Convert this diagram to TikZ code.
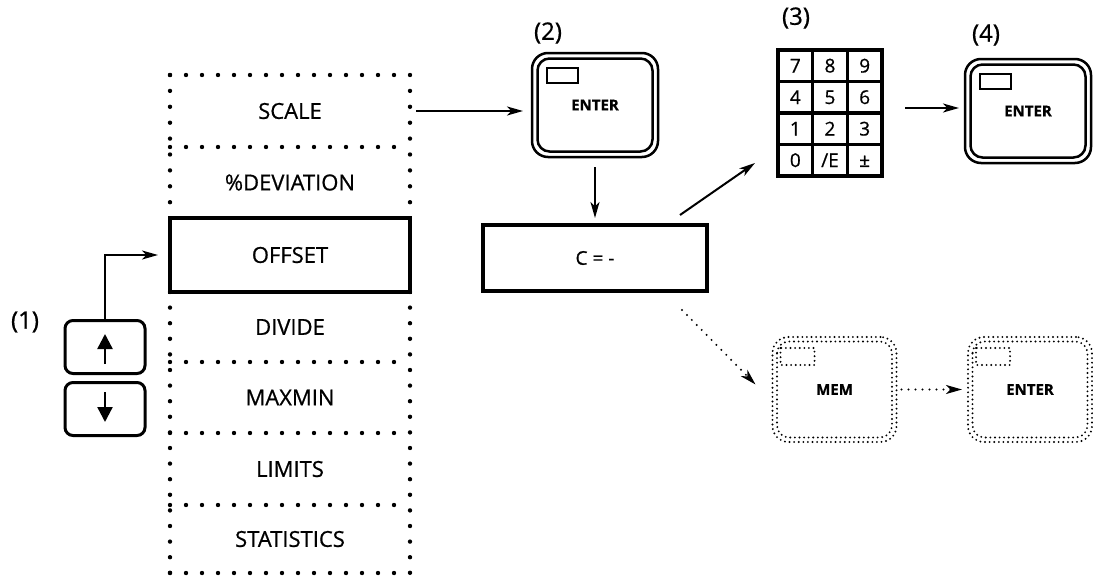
\documentclass[tikz,border=0pt]{standalone}
\usepackage{fontspec}
\setmainfont{Open Sans}[RawFeature={embolden=0.7}]
\usetikzlibrary{arrows.meta,calc}
\begin{document}
\begin{tikzpicture}[x=1pt,y=-1pt,
  lab/.style={font=\fontsize{22}{26}\selectfont, inner sep=0pt},
  numlab/.style={font=\fontsize{24}{28}\selectfont, inner sep=0pt},
  rowlab/.style={lab, minimum width=240pt, inner sep=0pt, outer sep=0pt},
  dotline/.style={line width=4.4pt, line cap=round, dash pattern=on 0pt off #1},
  dotline/.default=16pt,
  arr/.style={-{Stealth[length=16pt,width=9pt,inset=4.5pt]}, line width=2pt},
  dotarr/.style={arr, line width=2.2pt, line cap=round, dash pattern=on 0pt off 7pt},
  keybox/.style={draw, line width=3pt, rounded corners=8pt, minimum width=80pt, minimum height=53pt},
  keyarr/.style={-{Triangle[length=15pt,width=15pt]}, line width=2.4pt},
  keytext/.style={font=\bfseries\fontsize{15}{18}\selectfont},
  enterkey/.style={draw, line width=2.5pt, rounded corners=16pt, minimum width=126pt, minimum height=104pt, outer sep=0pt, keytext},
  finedots/.style={line width=2.1pt, line cap=round, dash pattern=on 0pt off 4.6pt},
  dotkey/.style={draw, finedots, rounded corners=16pt, minimum width=124pt, minimum height=105pt, outer sep=0pt, keytext},
  digit/.style={font=\fontsize{19}{22}\selectfont, inner sep=0pt, text height=13.5pt, text depth=0pt}
]
\useasboundingbox (0,0) rectangle (1093,581);

% column of menu entries
\node[rowlab, minimum height=72pt] (scale) at (290,111) {SCALE};
\node[rowlab, minimum height=71pt] (dev) at (290,182.5) {\%DEVIATION};
\node[rowlab, minimum height=74pt, draw, line width=3.6pt] (offset) at (290,255) {OFFSET};
\node[rowlab, minimum height=70pt] (divide) at (290,327) {DIVIDE};
\node[rowlab, minimum height=71pt] (maxmin) at (290,397.5) {MAXMIN};
\node[rowlab, minimum height=72pt] (limits) at (290,469) {LIMITS};
\node[rowlab, minimum height=68pt] (stats) at (290,539) {STATISTICS};

\draw[dotline] (scale.north west) -- (scale.north east);
\draw[dotline] (scale.south west) -- (scale.south east);
\draw[dotline] (divide.south west) -- (divide.south east);
\draw[dotline] (maxmin.south west) -- (maxmin.south east);
\draw[dotline] (limits.south west) -- (limits.south east);
\draw[dotline] (stats.south west) -- (stats.south east);
\draw[dotline=15.9pt] (scale.north west) -- (offset.north west);
\draw[dotline=15.9pt] (scale.north east) -- (offset.north east);
\draw[dotline=15.6pt] (offset.south west) -- (stats.south west);
\draw[dotline=15.6pt] (offset.south east) -- (stats.south east);

% arrow keys
\node[keybox] (up) at (105,347) {};
\node[keybox] (down) at (105,409) {};
\draw[keyarr] ([shift={(0,17)}]up.center) -- ([shift={(0,-13)}]up.center);
\draw[keyarr] ([shift={(0,-17)}]down.center) -- ([shift={(0,13)}]down.center);
\node[numlab] (l1) at (25,322) {(1)};
\draw[arr] (up.north) |- ([xshift=-12pt]offset.west);

% ENTER (2)
\node[enterkey] (e2) at (595,105) {ENTER};
\draw[line width=2.5pt, rounded corners=12pt] ([shift={(5.5,5.5)}]e2.north west) rectangle ([shift={(-5.5,-5.5)}]e2.south east);
\draw[line width=1.8pt] ([shift={(15,15)}]e2.north west) rectangle ([shift={(46,30)}]e2.north west);
\node[numlab] (l2) at (548,33) {(2)};
\draw[arr] ([xshift=6pt]scale.east) -- ([xshift=-9pt]scale.east -| e2.west);

% display
\node[draw, line width=3.2pt, minimum width=224pt, minimum height=66pt, outer sep=0pt,
      font=\fontsize{19}{22}\selectfont] (cbox) at (595,258) {C = -};
\draw[arr] ([yshift=-10pt]e2.south) -- ([yshift=7pt]cbox.north);

% keypad (3)
\node[draw, line width=4.2pt, minimum width=104pt, minimum height=126pt, outer sep=0pt, inner sep=0pt] (kp) at (830,113) {};
\draw[line width=3.4pt] ($(kp.north west)!1/3!(kp.north east)$) -- ($(kp.south west)!1/3!(kp.south east)$);
\draw[line width=3.4pt] ($(kp.north west)!2/3!(kp.north east)$) -- ($(kp.south west)!2/3!(kp.south east)$);
\draw[line width=3.4pt] ($(kp.north west)!1/4!(kp.south west)$) -- ($(kp.north east)!1/4!(kp.south east)$);
\draw[line width=3.4pt] ($(kp.north west)!2/4!(kp.south west)$) -- ($(kp.north east)!2/4!(kp.south east)$);
\draw[line width=3.4pt] ($(kp.north west)!3/4!(kp.south west)$) -- ($(kp.north east)!3/4!(kp.south east)$);
\foreach \t [count=\i from 0] in {7,8,9,4,5,6,1,2,3,0,/E,±} {
  \pgfmathsetmacro\cx{778+(mod(\i,3)+0.5)*34.667}
  \pgfmathsetmacro\cy{50+(int(\i/3)+0.5)*31.5}
  \node[digit] (k\i) at (\cx,\cy) {\t};
}
\node[numlab] (l3) at (796,18) {(3)};
\draw[arr] ([shift={(-27,-10)}]cbox.north east) -- ([shift={(-23,-13)}]kp.south west);

% ENTER (4)
\node[enterkey] (e4) at (1028,111) {ENTER};
\draw[line width=2.5pt, rounded corners=12pt] ([shift={(5.5,5.5)}]e4.north west) rectangle ([shift={(-5.5,-5.5)}]e4.south east);
\draw[line width=1.8pt] ([shift={(15,15)}]e4.north west) rectangle ([shift={(46,30)}]e4.north west);
\node[numlab] (l4) at (986,35) {(4)};
\draw[arr] ([shift={(23,-5)}]kp.east) -- ([shift={(-6,-5)}]kp.east -| e4.west);

% dotted alternative: MEM -> ENTER
\node[dotkey] (mem) at (834.5,389.5) {MEM};
\draw[finedots, rounded corners=12pt] ([shift={(4.5,4.5)}]mem.north west) rectangle ([shift={(-4.5,-4.5)}]mem.south east);
\draw[finedots] ([shift={(8,11)}]mem.north west) rectangle ([shift={(42,28)}]mem.north west);
\node[dotkey] (e5) at (1030,389.5) {ENTER};
\draw[finedots, rounded corners=12pt] ([shift={(4.5,4.5)}]e5.north west) rectangle ([shift={(-4.5,-4.5)}]e5.south east);
\draw[finedots] ([shift={(8,11)}]e5.north west) rectangle ([shift={(42,28)}]e5.north west);
\draw[dotarr] ([shift={(-25,19)}]cbox.south east) -- ([shift={(-17,-5)}]mem.west);
\draw[dotarr] ([xshift=5pt]mem.east) -- ([xshift=-6pt]e5.west);
\end{tikzpicture}
\end{document}
